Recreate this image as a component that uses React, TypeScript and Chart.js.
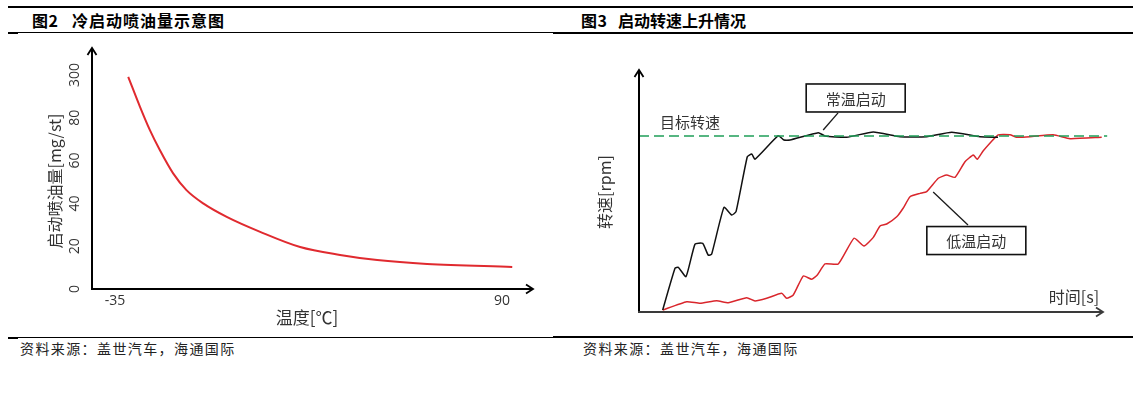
import React, { useEffect, useRef } from "react";
import { Chart, registerables } from "chart.js";

Chart.register(...registerables);

// ---------- Texts ----------
const fig2Number = "图2";
const fig2Title = "冷启动喷油量示意图";
const fig3Number = "图3";
const fig3Title = "启动转速上升情况";
const sourceText = "资料来源：盖世汽车，海通国际";

// ---------- Figure 2: cold-start injection quantity vs temperature ----------
const fig2Temperature = [-30.7, -26.9, -23.7, -20.5, -16.2, -11.9, -6.5, 1.1, 11.9, 24.8, 37.7, 49.7, 65.8, 93.3];
const fig2Injection = [99.1, 85.1, 74.2, 64.9, 54.0, 46.2, 40.0, 33.7, 26.7, 19.6, 15.9, 13.5, 11.7, 10.3];
const fig2XTickValues = [-35, 90];
const fig2XTickLabels = ["-35", "90"];
const fig2YTickValues = [0, 20, 40, 60, 80, 100];
const fig2YTickLabels = ["0", "20", "40", "60", "80", "300"];
const fig2XTitle = "温度[℃]";
const fig2YTitle = "启动喷油量[mg/st]";

// ---------- Figure 3: engine speed rise during start ----------
const normalTime = [5.1, 7.76, 8.47, 10.13, 12.07, 13.73, 14.94, 15.67, 18.32, 19.98, 20.91, 23.34, 24.29, 25.0, 30.02, 31.25, 32.54, 38.64, 40.09, 44.76, 50.5, 56.25, 62.0, 67.39, 73.49, 77.37];
const normalSpeed = [1.1, 24.8, 25.4, 20.1, 38.6, 39.0, 32.2, 33.0, 59.5, 55.1, 57.0, 88.2, 89.8, 86.8, 100.2, 97.7, 97.7, 101.9, 100.0, 99.3, 102.3, 99.6, 99.6, 102.1, 99.6, 99.3];
const coldTime = [5.1, 10.28, 13.15, 16.75, 19.25, 23.21, 25.0, 27.52, 30.75, 31.83, 33.25, 35.41, 37.22, 38.43, 40.09, 42.95, 46.34, 48.49, 50.5, 51.94, 53.38, 55.54, 56.96, 58.41, 60.56, 62.0, 64.5, 66.31, 68.1, 70.26, 72.05, 72.91, 74.2, 77.43, 79.96, 81.4, 84.27, 89.29, 92.89, 99.72];
const coldSpeed = [1.1, 5.85, 4.94, 6.42, 5.28, 8.13, 6.25, 7.78, 10.6, 7.78, 9.66, 20.45, 18.58, 21.0, 27.3, 27.3, 41.9, 37.5, 42.4, 48.9, 50.0, 54.1, 59.1, 65.5, 67.4, 68.4, 76.0, 77.8, 76.5, 85.4, 89.2, 86.8, 91.6, 100.6, 100.7, 99.3, 99.6, 100.7, 98.5, 99.3];
const targetTime = [0, 100.9];
const targetSpeed = [100, 100];
const fig3TargetLabel = "目标转速";
const fig3XTitle = "时间[s]";
const fig3YTitle = "转速[rpm]";
const fig3NormalLabel = "常温启动";
const fig3ColdLabel = "低温启动";

const CJK = '"Noto Sans CJK SC", "Noto Sans", sans-serif';
const NUM = '"Open Sans", "Noto Sans", sans-serif';
const TEXT = "#333333";

function arrowHead(ctx: CanvasRenderingContext2D, x: number, y: number, dir: "up" | "right") {
  ctx.beginPath();
  if (dir === "up") {
    ctx.moveTo(x - 4.5, y + 7);
    ctx.lineTo(x, y);
    ctx.lineTo(x + 4.5, y + 7);
  } else {
    ctx.moveTo(x - 7, y - 4.5);
    ctx.lineTo(x, y);
    ctx.lineTo(x - 7, y + 4.5);
  }
  ctx.stroke();
}

function rotatedText(ctx: CanvasRenderingContext2D, text: string, x: number, y: number, font: string) {
  ctx.save();
  ctx.translate(x, y);
  ctx.rotate(-Math.PI / 2);
  ctx.font = font;
  ctx.textAlign = "center";
  ctx.textBaseline = "middle";
  ctx.fillText(text, 0, 0);
  ctx.restore();
}

const fig2Decor = {
  id: "fig2Decor",
  afterDraw(chart: any) {
    const { ctx, chartArea: a, scales } = chart;
    const xs = scales.x;
    const ys = scales.y;
    ctx.save();
    ctx.strokeStyle = "#000";
    ctx.lineWidth = 2;
    ctx.lineCap = "butt";
    ctx.beginPath();
    ctx.moveTo(a.left, a.bottom);
    ctx.lineTo(a.left, a.top);
    ctx.moveTo(a.left - 1, a.bottom);
    ctx.lineTo(a.right, a.bottom);
    ctx.stroke();
    ctx.lineWidth = 1.8;
    arrowHead(ctx, a.left, a.top, "up");
    arrowHead(ctx, a.right, a.bottom, "right");

    ctx.fillStyle = TEXT;
    fig2YTickValues.forEach((v, i) => {
      rotatedText(ctx, fig2YTickLabels[i], a.left - 17, ys.getPixelForValue(v), `14px ${NUM}`);
    });
    ctx.font = `14px ${NUM}`;
    ctx.textAlign = "center";
    ctx.textBaseline = "middle";
    fig2XTickValues.forEach((v, i) => {
      ctx.fillText(fig2XTickLabels[i], xs.getPixelForValue(v), a.bottom + 12);
    });
    ctx.font = `17px ${CJK}`;
    ctx.fillText(fig2XTitle, a.left + 215, a.bottom + 29);
    rotatedText(ctx, fig2YTitle, a.left - 37, a.bottom - 108, `16px ${CJK}`);
    ctx.restore();
  },
};

function callout(ctx: CanvasRenderingContext2D, text: string, cx: number, cy: number, lx1: number, ly1: number, lx2: number, ly2: number) {
  ctx.save();
  ctx.strokeStyle = "#1a1a1a";
  ctx.lineWidth = 1.3;
  ctx.beginPath();
  ctx.moveTo(lx1, ly1);
  ctx.lineTo(lx2, ly2);
  ctx.stroke();
  const w = 99;
  const h = 28;
  ctx.fillStyle = "#fff";
  ctx.fillRect(cx - w / 2, cy - h / 2, w, h);
  ctx.lineWidth = 1.6;
  ctx.strokeStyle = "#111";
  ctx.strokeRect(cx - w / 2, cy - h / 2, w, h);
  ctx.fillStyle = TEXT;
  ctx.font = `15px ${CJK}`;
  ctx.textAlign = "center";
  ctx.textBaseline = "middle";
  ctx.fillText(text, cx, cy + 1);
  ctx.restore();
}

const fig3Decor = {
  id: "fig3Decor",
  afterDraw(chart: any) {
    const { ctx, chartArea: a, scales } = chart;
    const xs = scales.x;
    const ys = scales.y;
    ctx.save();
    ctx.lineWidth = 2;
    ctx.strokeStyle = "#000";
    ctx.beginPath();
    ctx.moveTo(a.left, a.bottom);
    ctx.lineTo(a.left, a.top);
    ctx.stroke();
    ctx.lineWidth = 1.8;
    arrowHead(ctx, a.left, a.top, "up");
    ctx.strokeStyle = "#3a3a3a";
    ctx.lineWidth = 2;
    ctx.beginPath();
    ctx.moveTo(a.left - 1, a.bottom);
    ctx.lineTo(a.right, a.bottom);
    ctx.stroke();
    ctx.lineWidth = 1.8;
    arrowHead(ctx, a.right, a.bottom, "right");

    ctx.fillStyle = TEXT;
    ctx.font = `15px ${CJK}`;
    ctx.textAlign = "left";
    ctx.textBaseline = "middle";
    ctx.fillText(fig3TargetLabel, a.left + 21, ys.getPixelForValue(targetSpeed[0]) - 14);
    ctx.font = `16px ${CJK}`;
    ctx.textAlign = "center";
    ctx.fillText(fig3XTitle, a.right - 29, a.bottom - 15);
    rotatedText(ctx, fig3YTitle, a.left - 34, (a.top + a.bottom) / 2 + 1, `16px ${CJK}`);

    callout(ctx, fig3NormalLabel,
      xs.getPixelForValue(46.7), ys.getPixelForValue(121.6),
      xs.getPixelForValue(42.9), ys.getPixelForValue(113.1),
      xs.getPixelForValue(39.7), ys.getPixelForValue(103.4));
    callout(ctx, fig3ColdLabel,
      xs.getPixelForValue(72.7), ys.getPixelForValue(40.6),
      xs.getPixelForValue(70.9), ys.getPixelForValue(49.4),
      xs.getPixelForValue(63.4), ys.getPixelForValue(68.2));
    ctx.restore();
  },
};

const toPoints = (xs: number[], ys: number[]) => xs.map((x, i) => ({ x, y: ys[i] }));

function Rule({ l, t, w, h }: { l: number; t: number; w: number; h: number }) {
  return <div style={{ position: "absolute", left: l, top: t, width: w, height: h, background: "#000" }} />;
}

export default function App() {
  const leftRef = useRef<HTMLCanvasElement>(null);
  const rightRef = useRef<HTMLCanvasElement>(null);

  useEffect(() => {
    const c1 = new Chart(leftRef.current as HTMLCanvasElement, {
      type: "line",
      data: {
        datasets: [
          {
            data: toPoints(fig2Temperature, fig2Injection),
            borderColor: "#e02a2f",
            borderWidth: 2,
            pointRadius: 0,
            cubicInterpolationMode: "monotone",
            fill: false,
          },
        ],
      },
      options: {
        animation: false,
        responsive: false,
        events: [],
        layout: { padding: { left: 92, right: 27, top: 8, bottom: 41 } },
        plugins: { legend: { display: false }, tooltip: { enabled: false } },
        scales: {
          x: { type: "linear", min: -42.4, max: 100, display: false },
          y: { type: "linear", min: 0, max: 112.6, display: false },
        },
      },
      plugins: [fig2Decor],
    } as any);

    const c2 = new Chart(rightRef.current as HTMLCanvasElement, {
      type: "line",
      data: {
        datasets: [
          {
            data: toPoints(targetTime, targetSpeed),
            borderColor: "#1f9e58",
            borderWidth: 1.6,
            borderDash: [10, 5],
            pointRadius: 0,
            clip: false,
            fill: false,
          },
          {
            data: toPoints(normalTime, normalSpeed),
            borderColor: "#111111",
            borderWidth: 1.5,
            pointRadius: 0,
            tension: 0.15,
            fill: false,
          },
          {
            data: toPoints(coldTime, coldSpeed),
            borderColor: "#d9262c",
            borderWidth: 1.5,
            pointRadius: 0,
            tension: 0.15,
            fill: false,
          },
        ],
      },
      options: {
        animation: false,
        responsive: false,
        events: [],
        layout: { padding: { left: 79, right: 44, top: 30, bottom: 18 } },
        plugins: { legend: { display: false }, tooltip: { enabled: false } },
        scales: {
          x: { type: "linear", min: 0, max: 100, display: false },
          y: { type: "linear", min: 0, max: 137.5, display: false },
        },
      },
      plugins: [fig3Decor],
    } as any);

    return () => {
      c1.destroy();
      c2.destroy();
    };
  }, []);

  const titleStyle: React.CSSProperties = {
    position: "absolute",
    top: 10,
    lineHeight: "20px",
    fontSize: 16,
    fontWeight: 700,
    fontFamily: CJK,
    color: "#000",
    whiteSpace: "nowrap",
  };
  const sourceStyle: React.CSSProperties = {
    position: "absolute",
    top: 339,
    lineHeight: "18px",
    fontSize: 14,
    letterSpacing: 1.4,
    fontFamily: CJK,
    color: "#222",
    whiteSpace: "nowrap",
  };

  return (
    <div style={{ position: "absolute", left: 0, top: 0, width: 1147, height: 393, background: "#fff", overflow: "hidden" }}>
      <Rule l={8} t={6} w={1125} h={2} />
      <Rule l={8} t={32} w={545} h={1} />
      <Rule l={8} t={32} w={10} h={2} />
      <Rule l={553} t={32} w={580} h={2} />
      <Rule l={8} t={337} w={545} h={1} />
      <Rule l={8} t={337} w={10} h={2} />
      <Rule l={553} t={336} w={580} h={2} />

      <div style={{ ...titleStyle, left: 32, letterSpacing: 0.5 }}>{fig2Number}</div>
      <div style={{ ...titleStyle, left: 72, letterSpacing: 1 }}>{fig2Title}</div>
      <div style={{ ...titleStyle, left: 581, letterSpacing: 0.5 }}>{fig3Number}</div>
      <div style={{ ...titleStyle, left: 618, letterSpacing: 0 }}>{fig3Title}</div>

      <canvas ref={leftRef} width={560} height={290} style={{ position: "absolute", left: 0, top: 40, width: 560, height: 290 }} />
      <canvas ref={rightRef} width={587} height={290} style={{ position: "absolute", left: 560, top: 40, width: 587, height: 290 }} />

      <div style={{ ...sourceStyle, left: 20 }}>{sourceText}</div>
      <div style={{ ...sourceStyle, left: 583 }}>{sourceText}</div>
    </div>
  );
}
